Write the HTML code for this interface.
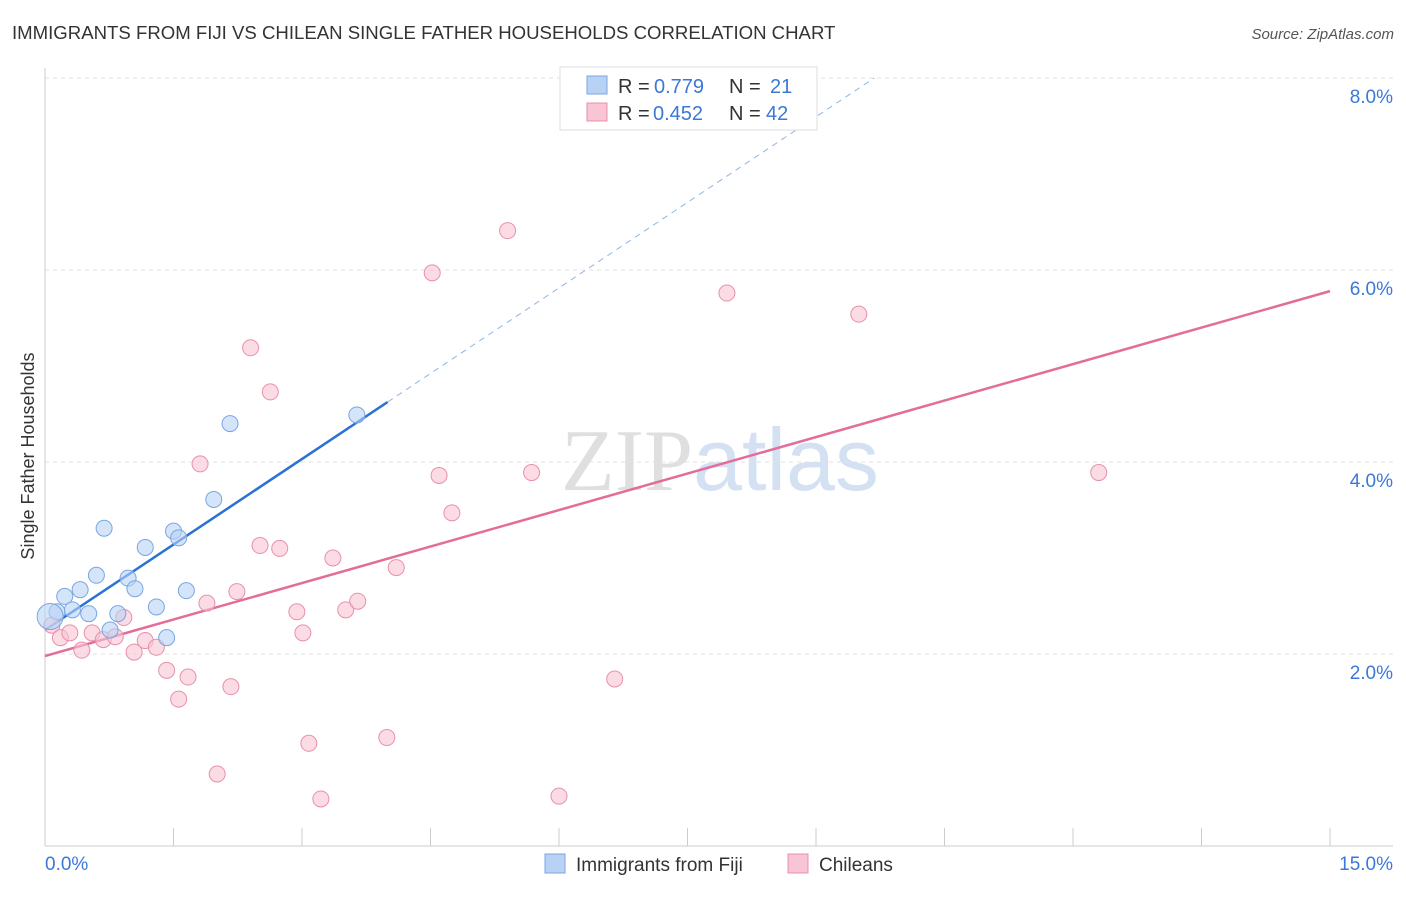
<!DOCTYPE html>
<html><head><meta charset="utf-8"><style>
body{margin:0;background:#fff;font-family:"Liberation Sans",sans-serif}
svg text{font-family:"Liberation Sans",sans-serif}
</style></head><body>
<svg width="1406" height="892" xmlns="http://www.w3.org/2000/svg" id="chart">
<text x="12" y="39" font-size="18.6" fill="#333">IMMIGRANTS FROM FIJI VS CHILEAN SINGLE FATHER HOUSEHOLDS CORRELATION CHART</text>
<text x="1394" y="39" font-size="15" fill="#555" text-anchor="end" font-style="italic">Source: ZipAtlas.com</text>
<text x="720" y="490" font-size="88" text-anchor="middle" fill="#ddd" opacity="0.8"><tspan font-family="Liberation Serif" fill="#d8d8d8">ZIP</tspan><tspan fill="#c9daf0">atlas</tspan></text>
<g id="grid"></g>
<g id="axes"></g>
<g id="lines"></g>
<g id="pts"></g>
<text transform="translate(34,456) rotate(-90)" font-size="18" fill="#333" text-anchor="middle">Single Father Households</text>
<g>
<rect x="560" y="67" width="257" height="63" fill="#fff" stroke="#ddd"/>
<rect x="587" y="76" width="20" height="18" fill="#b8d2f5" stroke="#7aa6e0"/>
<rect x="587" y="103" width="20" height="18" fill="#f9c4d4" stroke="#e890ab"/>
<text x="618" y="93" font-size="20" fill="#333">R =</text>
<text x="654" y="93" font-size="20" fill="#3b78d8">0.779</text>
<text x="729" y="93" font-size="20" fill="#333">N =</text>
<text x="770" y="93" font-size="20" fill="#3b78d8">21</text>
<text x="618" y="120" font-size="20" fill="#333">R =</text>
<text x="653" y="120" font-size="20" fill="#3b78d8">0.452</text>
<text x="729" y="120" font-size="20" fill="#333">N =</text>
<text x="766" y="120" font-size="20" fill="#3b78d8">42</text>
</g>
<g>
<rect x="545" y="854" width="20" height="19" fill="#b8d2f5" stroke="#7aa6e0"/>
<text x="576" y="871" font-size="19" fill="#333">Immigrants from Fiji</text>
<rect x="788" y="854" width="20" height="19" fill="#f9c4d4" stroke="#e890ab"/>
<text x="819" y="871" font-size="19" fill="#333">Chileans</text>
</g>
</svg>
<script>
const blueX=[0.14,0.23,0.32,0.41,0.51,0.60,0.69,0.76,0.85,0.97,1.05,1.17,1.30,1.42,1.50,1.56,1.65,1.97,2.16,3.64,0.06];
const blueY=[2.44,2.60,2.46,2.67,2.42,2.82,3.31,2.25,2.42,2.79,2.68,3.11,2.49,2.17,3.28,3.21,2.66,3.61,4.40,4.49,2.39];
const pinkX=[0.08,0.18,0.29,0.43,0.55,0.68,0.82,0.92,1.04,1.17,1.30,1.42,1.56,1.67,1.81,1.89,2.01,2.17,2.24,2.40,2.51,2.63,2.74,2.94,3.01,3.08,3.22,3.36,3.51,3.65,3.99,4.10,4.52,4.60,4.75,5.40,5.68,6.00,6.65,7.96,9.50,12.30];
const pinkY=[2.30,2.17,2.22,2.04,2.22,2.15,2.18,2.38,2.02,2.14,2.07,1.83,1.53,1.76,3.98,2.53,0.75,1.66,2.65,5.19,3.13,4.73,3.10,2.44,2.22,1.07,0.49,3.00,2.46,2.55,1.13,2.90,5.97,3.86,3.47,6.41,3.89,0.52,1.74,5.76,5.54,3.89];
const blueTrendX=[0,4.0,9.68];
const blueTrendY=[2.25,4.625,8.0];
const pinkTrendX=[0,15];
const pinkTrendY=[1.979,5.78];
const yTicks=[2,4,6,8];
const yTickLabels=["2.0%","4.0%","6.0%","8.0%"];
const NS="http://www.w3.org/2000/svg";
const sx=v=>45+v*85.667, sy=v=>846-v*96;
function mk(tag,attrs,parent){const e=document.createElementNS(NS,tag);for(const k in attrs)e.setAttribute(k,attrs[k]);document.getElementById(parent).appendChild(e);return e;}
yTicks.forEach((t,i)=>{
 const g=mk('line',{x1:45,x2:1393,y1:sy(t),y2:sy(t),stroke:'#e2e2e2','stroke-dasharray':'4,4'},'grid');
 
 
 const l=mk('text',{x:1393,y:sy(t)+25,'font-size':19,fill:'#3b78d8','text-anchor':'end'},'grid');
 l.textContent=yTickLabels[i];
 
 
});
mk('line',{x1:45,x2:45,y1:68,y2:846,stroke:'#ccc'},'axes');
mk('line',{x1:45,x2:1393,y1:846,y2:846,stroke:'#ccc'},'axes');
for(let i=0;i<=10;i++){const t=mk('line',{x1:sx(i*1.5),x2:sx(i*1.5),y1:828,y2:846,stroke:'#ccc'},'axes');
 
 }
const x0=mk('text',{x:45,y:870,'font-size':19,fill:'#3b78d8'},'axes');x0.textContent='0.0%';


const x1=mk('text',{x:1393,y:870,'font-size':19,fill:'#3b78d8','text-anchor':'end'},'axes');x1.textContent='15.0%';


pinkX.forEach((x,i)=>{const c=mk('circle',{cx:sx(x),cy:sy(pinkY[i]),r:8,fill:'#f9c4d4','fill-opacity':0.6,stroke:'#e890ab','stroke-width':1},'pts');
 
 });
blueX.forEach((x,i)=>{const c=mk('circle',{cx:sx(x),cy:sy(blueY[i]),r:i===20?13:8,fill:'#b8d2f5','fill-opacity':0.6,stroke:'#7aa6e0','stroke-width':1},'pts');
 
 });
const bl=mk('line',{x1:sx(blueTrendX[0]),y1:sy(blueTrendY[0]),x2:sx(blueTrendX[1]),y2:sy(blueTrendY[1]),stroke:'#2a72d4','stroke-width':2.5},'lines');


const bd=mk('line',{x1:sx(blueTrendX[1]),y1:sy(blueTrendY[1]),x2:sx(blueTrendX[2]),y2:sy(blueTrendY[2]),stroke:'#8fb4e6','stroke-width':1,'stroke-dasharray':'6,5'},'lines');


const pl=mk('line',{x1:sx(pinkTrendX[0]),y1:sy(pinkTrendY[0]),x2:sx(pinkTrendX[1]),y2:sy(pinkTrendY[1]),stroke:'#e36d98','stroke-width':2.5},'lines');


</script>
</body></html>
